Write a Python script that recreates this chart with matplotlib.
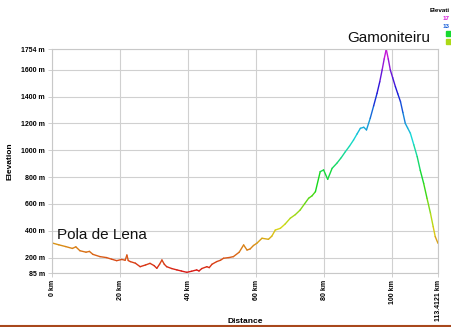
import numpy as np
import matplotlib
matplotlib.use("Agg")
import matplotlib.pyplot as plt
from matplotlib.collections import LineCollection
from matplotlib.colors import hsv_to_rgb, ListedColormap, Normalize

# Elevation profile: distance (km) and elevation (m)
distance_km = [0.0, 2.0, 4.0, 6.0, 7.0, 8.2, 10.0, 11.0, 12.0, 14.1, 16.0, 17.5, 19.0, 20.5, 21.5,
               22.0, 22.4, 23.0, 24.5, 25.9, 27.5, 28.8, 30.0, 30.8, 31.6, 32.3, 33.0,
               33.7, 35.2, 36.7, 38.0, 39.6, 41.0, 42.5, 43.2, 44.0, 45.5, 46.2, 47.0, 48.4, 49.5,
               50.4, 52.0, 53.3, 55.0, 56.3, 57.3, 58.2, 59.2, 60.2, 61.7, 63.6, 64.6, 65.6,
               67.1, 68.5, 70.0, 71.5, 72.9, 74.2, 75.4, 76.4, 77.4, 78.8, 79.8, 81.0, 82.3,
               83.7, 85.0, 86.2, 87.4, 88.6, 89.6, 90.6, 91.6, 92.4, 93.5, 94.5, 95.5,
               96.3, 97.0, 97.6, 98.2, 98.8, 99.4, 100.1, 100.9, 101.6, 102.4, 103.1,
               103.8, 104.5, 105.3, 106.3, 107.3, 108.2, 109.2, 110.2, 111.2, 112.0,
               112.6, 113.4121]
elevation_m = [309, 295, 282, 268, 280, 251, 240, 246, 224, 207, 200, 188, 177, 186, 180,
               219, 178, 170, 158, 132, 145, 157, 140, 120, 150, 182, 150,
               132, 118, 108, 100, 90, 98, 108, 100, 118, 132, 125, 150, 170, 180,
               195, 200, 207, 240, 294, 256, 264, 290, 307, 344, 336, 360, 405,
               418, 450, 493, 520, 554, 600, 642, 660, 691, 840, 853, 783, 865,
               903, 945, 989, 1030, 1076, 1120, 1163, 1171, 1151, 1238, 1330, 1424,
               1510, 1598, 1680, 1752, 1680, 1598, 1540, 1473, 1420, 1361, 1280,
               1200, 1165, 1126, 1040, 952, 850, 753, 640, 530, 430,
               356, 306]

y_ticks = [85, 200, 400, 600, 800, 1000, 1200, 1400, 1600, 1754]
x_ticks = [0, 20, 40, 60, 80, 100, 113.4121]
x_tick_labels = ["0 km", "20 km", "40 km", "60 km", "80 km", "100 km", "113.4121 km"]

start_name = "Pola de Lena"
summit_name = "Gamoniteiru"

# Colour key squeezed against the right edge: only the leading characters fit
legend_title = "Elevati"
legend_values = [1754, 1300]
legend_labels = ["17", "13"]
legend_swatches = [800, 500]

font = "Liberation Sans"

# Hue ramp from red (low) through yellow, green, cyan, blue to magenta (high)
hues = np.linspace(0.0, 0.83, 256)
ramp = hsv_to_rgb(np.column_stack([hues, np.full(256, 0.9), np.full(256, 0.85)]))
cmap = ListedColormap(ramp)

fig = plt.figure(figsize=(4.51, 3.27), dpi=100)
ax = fig.add_axes([52 / 451, 1 - 273 / 327, 386 / 451, 224 / 327])

x = np.array(distance_km)
y = np.array(elevation_m)
pts = np.column_stack([x, y]).reshape(-1, 1, 2)
segs = np.concatenate([pts[:-1], pts[1:]], axis=1)
norm = Normalize(vmin=y_ticks[0], vmax=y_ticks[-1])
lc = LineCollection(segs, cmap=cmap, norm=norm, linewidth=1.0, capstyle="round")
lc.set_array((y[:-1] + y[1:]) / 2)
ax.add_collection(lc)

ax.set_xlim(0, x_ticks[-1])
ax.set_ylim(y_ticks[0], y_ticks[-1])
ax.set_xticks(x_ticks)
ax.set_xticklabels(x_tick_labels, rotation=90, fontsize=5, fontweight="bold", family=font)
ax.set_yticks(y_ticks)
ax.set_yticklabels([f"{v} m" for v in y_ticks], fontsize=5, fontweight="bold", family=font)
ax.tick_params(length=3, width=0.6, color="#c8c8c8", pad=2)
ax.grid(True, color="#d0d0d0", linewidth=0.8)
ax.set_axisbelow(True)
for s in ax.spines.values():
    s.set_color("#c8c8c8")
    s.set_linewidth(0.8)

ax.set_xlabel("Distance", fontsize=6, fontweight="bold", family=font)
ax.set_ylabel("Elevation", fontsize=6, fontweight="bold", family=font)
ax.xaxis.set_label_coords(0.5, -0.2)
ax.yaxis.set_label_coords(-0.1, 0.5)

# Place names
fig.text(57 / 451, 1 - 239 / 327, start_name, fontsize=11, family=font, color="#111111")
fig.text(347 / 451, 1 - 42 / 327, summit_name, fontsize=11, family=font, color="#111111")

# Colour key
fig.text(450 / 451, 1 - 12 / 327, legend_title, fontsize=4.5, fontweight="bold",
         family=font, ha="right")
for i, (val, lab) in enumerate(zip(legend_values, legend_labels)):
    fig.text(443 / 451, 1 - (20 + 8 * i) / 327, lab, fontsize=4.5, fontweight="bold",
             family=font, color=cmap(norm(val)))
for i, val in enumerate(legend_swatches):
    ypix = 31 + 8 * i
    fig.patches.append(plt.Rectangle((446 / 451, 1 - (ypix + 5) / 327), 6 / 451, 5 / 327,
                                     transform=fig.transFigure, color=cmap(norm(val))))

# Bottom separator rule
fig.add_artist(plt.Line2D([0, 1], [1 - 325.5 / 327] * 2, transform=fig.transFigure,
                          color="#a8481c", linewidth=1.5))

fig.savefig("out.png", dpi=100)
